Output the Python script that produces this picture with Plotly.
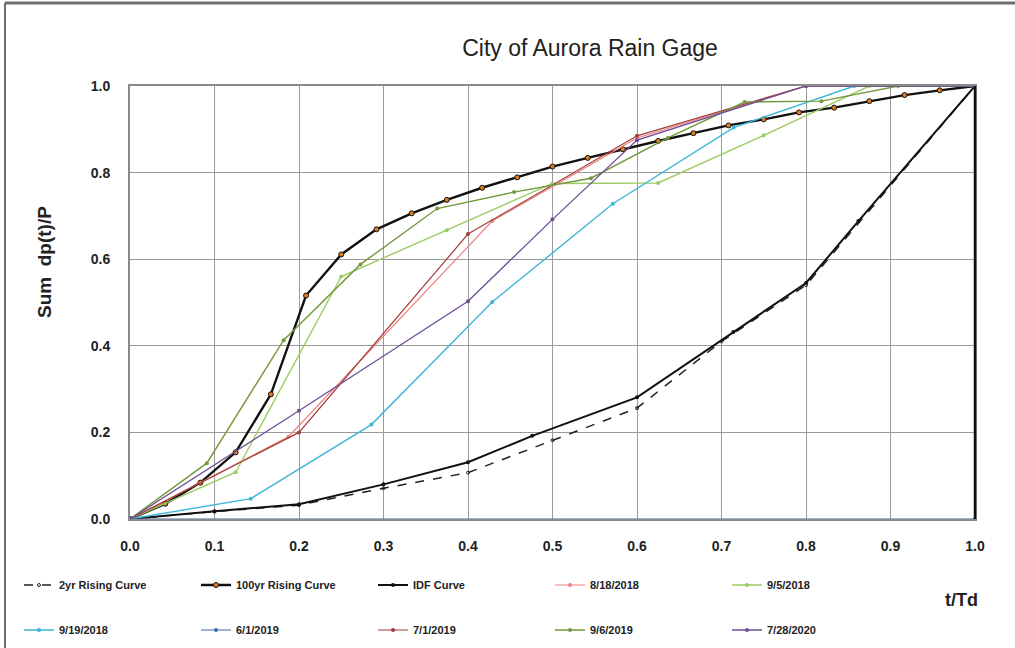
import plotly.graph_objects as go

# ---------------- data ----------------
x_2yr = [0.0, 0.1, 0.2, 0.3, 0.4, 0.5, 0.6, 0.7, 0.8, 1.0]
y_2yr = [0.0, 0.017, 0.032, 0.071, 0.107, 0.182, 0.256, 0.41, 0.54, 1.0]

x_100yr = [0.0, 0.0417, 0.0833, 0.125, 0.1667, 0.2083, 0.25, 0.2917, 0.3333, 0.375,
           0.4167, 0.4583, 0.5, 0.5417, 0.5833, 0.625, 0.6667, 0.7083, 0.75, 0.7917,
           0.8333, 0.875, 0.9167, 0.9583, 1.0]
y_100yr = [0.0, 0.035, 0.084, 0.154, 0.288, 0.516, 0.611, 0.669, 0.706, 0.737,
           0.765, 0.789, 0.814, 0.834, 0.854, 0.873, 0.891, 0.909, 0.923, 0.939,
           0.950, 0.965, 0.979, 0.990, 1.0]

x_idf = [0.0, 0.1, 0.2, 0.3, 0.4, 0.476, 0.6, 0.714, 0.8, 0.862, 1.0]
y_idf = [0.0, 0.018, 0.034, 0.080, 0.131, 0.192, 0.281, 0.432, 0.545, 0.688, 1.0]

x_0818 = [0.0, 0.1875, 0.4286, 0.6, 0.8, 1.0]
y_0818 = [0.0, 0.190, 0.688, 0.880, 1.0, 1.0]

x_0905 = [0.0, 0.125, 0.25, 0.375, 0.5, 0.625, 0.75, 0.875, 1.0]
y_0905 = [0.0, 0.108, 0.560, 0.667, 0.775, 0.776, 0.886, 1.0, 1.0]

x_0919 = [0.0, 0.1429, 0.2857, 0.4286, 0.5714, 0.7143, 0.8571, 1.0]
y_0919 = [0.0, 0.047, 0.218, 0.501, 0.728, 0.904, 1.0, 1.0]

x_0601 = [0.0, 1.0]
y_0601 = [0.0, 0.0]

x_0701 = [0.0, 0.2, 0.4, 0.6, 0.8, 1.0]
y_0701 = [0.0, 0.200, 0.658, 0.885, 1.0, 1.0]

x_0906 = [0.0, 0.0909, 0.1818, 0.2727, 0.3636, 0.4545, 0.5455, 0.6364, 0.7273, 0.8182, 0.9091, 1.0]
y_0906 = [0.0, 0.129, 0.413, 0.588, 0.717, 0.755, 0.787, 0.880, 0.963, 0.965, 1.0, 1.0]

x_0728 = [0.0, 0.2, 0.4, 0.5, 0.6, 0.8, 1.0]
y_0728 = [0.0, 0.250, 0.503, 0.692, 0.875, 1.0, 1.0]

x_ticks = [0.0, 0.1, 0.2, 0.3, 0.4, 0.5, 0.6, 0.7, 0.8, 0.9, 1.0]
y_ticks = [0.0, 0.2, 0.4, 0.6, 0.8, 1.0]

# ---------------- figure ----------------
W, H = 1015, 648
ML, MR, MT, MB = 130, 40, 86, 129
PW, PH = W - ML - MR, H - MT - MB

def px_x(p):
    return (p - ML) / PW

def px_y(p):
    return (H - MB - p) / PH

fig = go.Figure()

def add(name, xs, ys, color, width=1.3, dash="solid", msize=4, mcolor=None,
        mline=None, legend="legend", symbol="circle"):
    fig.add_trace(go.Scatter(
        x=xs, y=ys, name=name, mode="lines+markers",
        line=dict(color=color, width=width, dash=dash),
        marker=dict(size=msize, color=mcolor or color, symbol=symbol,
                    line=dict(color=mline or color, width=1 if mline else 0)),
        legend=legend,
    ))

add("2yr Rising Curve", x_2yr, y_2yr, "#222222", width=1.5, dash="dash", msize=3,
    symbol="circle-open")
add("100yr Rising Curve", x_100yr, y_100yr, "#111111", width=2.4, msize=5,
    mcolor="#e07b1f", mline="#111111")
add("IDF Curve", x_idf, y_idf, "#111111", width=2.0, msize=4)
add("8/18/2018", x_0818, y_0818, "#ee8080", width=1.2)
add("9/5/2018", x_0905, y_0905, "#9ccc62", width=1.4)
add("9/19/2018", x_0919, y_0919, "#3db6d8", width=1.4, legend="legend2")
add("6/1/2019", x_0601, y_0601, "#3f6db0", width=1.2, legend="legend2")
add("7/1/2019", x_0701, y_0701, "#a23d3a", width=1.2, legend="legend2")
add("9/6/2019", x_0906, y_0906, "#74983c", width=1.4, legend="legend2")
add("7/28/2020", x_0728, y_0728, "#6c4f96", width=1.3, legend="legend2")

tickfont = dict(family="Liberation Sans", size=14, color="#222222", weight="bold")
grid = "#9a9a9a"

fig.update_xaxes(range=[0, 1.0], tickvals=x_ticks, ticktext=[f"{v:.1f}" for v in x_ticks],
                 showgrid=True, gridcolor=grid, gridwidth=1.3,
                 showline=True, linecolor="#8a8a8a", linewidth=2, mirror=True,
                 ticks="", tickfont=tickfont, ticklabelstandoff=13, zeroline=False,
                 automargin=False)
fig.update_yaxes(range=[0, 1.0], tickvals=y_ticks, ticktext=[f"{v:.1f}" for v in y_ticks],
                 showgrid=True, gridcolor=grid, gridwidth=1.3,
                 showline=True, linecolor="#8a8a8a", linewidth=2, mirror=True,
                 ticks="", tickfont=tickfont, ticklabelstandoff=15, zeroline=False,
                 automargin=False)

legfont = dict(family="Liberation Sans Narrow, Liberation Sans", size=11, color="#222222",
               weight="bold")
common_leg = dict(orientation="h", xanchor="left", yanchor="middle", x=px_x(19),
                  font=legfont, entrywidth=132, entrywidthmode="pixels",
                  bgcolor="rgba(0,0,0,0)", itemwidth=30, tracegroupgap=0)

fig.update_layout(
    width=W, height=H,
    margin=dict(l=ML, r=MR, t=MT, b=MB, autoexpand=False),
    paper_bgcolor="white", plot_bgcolor="white",
    title=dict(text="City of Aurora Rain Gage", x=590 / W, xanchor="center",
               y=1 - 48 / H, yanchor="middle",
               font=dict(family="Liberation Sans", size=23, color="#222222")),
    legend=dict(y=px_y(585), **common_leg),
    legend2=dict(y=px_y(630), **common_leg),
    showlegend=True,
    annotations=[
        dict(text="t/Td", x=px_x(961), y=px_y(600), xref="paper", yref="paper",
             xanchor="center", yanchor="middle",
             showarrow=False, font=dict(family="Liberation Sans", size=18,
                                        color="#222222", weight="bold")),
        dict(text="Sum  dp(t)/P", x=px_x(44), y=px_y(262), xref="paper", yref="paper",
             xanchor="center", yanchor="middle",
             showarrow=False, textangle=-90,
             font=dict(family="Liberation Sans", size=19, color="#222222",
                       weight="bold")),
    ],
    shapes=[
        # outer chart frame (top and left edges)
        dict(type="line", xref="paper", yref="paper", x0=px_x(5), x1=px_x(W + 5),
             y0=px_y(3), y1=px_y(3), line=dict(color="#6e6e6e", width=3)),
        dict(type="line", xref="paper", yref="paper", x0=px_x(5), x1=px_x(5),
             y0=px_y(3), y1=px_y(H + 5), line=dict(color="#6e6e6e", width=2)),
        # right plot edge drawn darker
        dict(type="line", xref="paper", yref="paper", x0=1, x1=1, y0=0, y1=1,
             line=dict(color="#111111", width=2.5)),
    ],
)

fig.write_html("out.html")
